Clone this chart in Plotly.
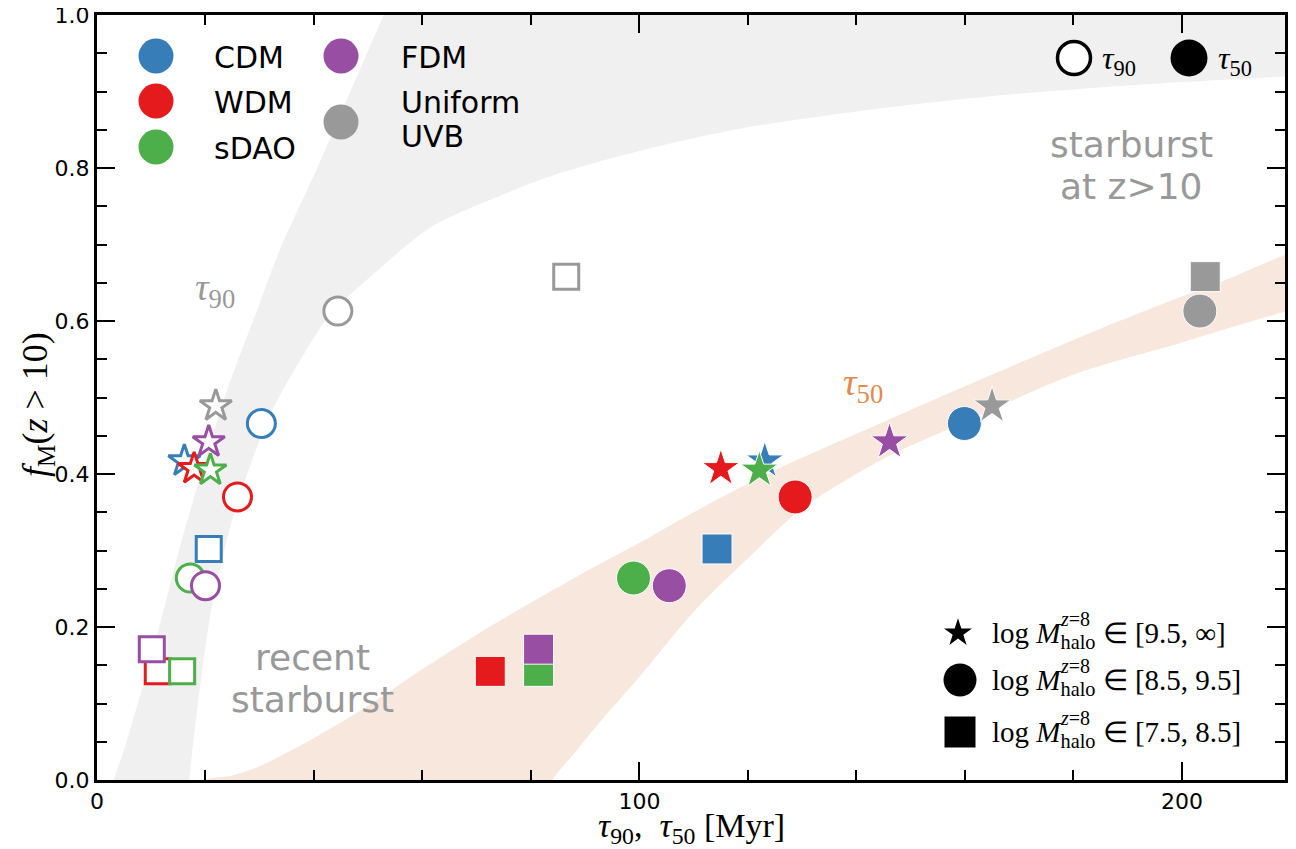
import plotly.graph_objects as go

# ---------------- data ----------------
MODELS = ["CDM", "WDM", "sDAO", "FDM", "Uniform UVB"]
MODEL_COLORS = ["#377eb8", "#e41a1c", "#4daf4a", "#984ea3", "#999999"]

# log M_halo(z=8) in [9.5, inf]  -> stars
FM_HIGH = [0.417, 0.407, 0.405, 0.442, 0.489]
TAU90_HIGH = [16.1, 17.9, 20.9, 20.6, 21.9]
TAU50_HIGH = [123.1, 115.0, 122.1, 146.1, 165.0]
# log M_halo(z=8) in [8.5, 9.5]  -> circles
FM_MID = [0.466, 0.370, 0.264, 0.254, 0.613]
TAU90_MID = [30.3, 25.9, 17.2, 20.0, 44.4]
TAU50_MID = [159.9, 128.7, 98.9, 105.5, 203.3]
# log M_halo(z=8) in [7.5, 8.5]  -> squares
FM_LOW = [0.302, 0.142, 0.142, 0.171, 0.658]
TAU90_LOW = [20.6, 11.2, 15.7, 10.1, 86.5]
TAU50_LOW = [114.3, 72.5, 81.4, 81.4, 204.3]

MASS_LABELS = ["[9.5, ∞]", "[8.5, 9.5]", "[7.5, 8.5]"]

# tau90 guide band (grey): left edge, right edge
T90_LEFT_X = [2.6, 3.1, 5.0, 10.5, 15.3, 20.0, 24.0, 29.5, 33.7, 40.6, 45.5, 52.9, 55.0]
T90_LEFT_Y = [-0.02, 0.0, 0.04, 0.174, 0.305, 0.42, 0.51, 0.614, 0.693, 0.80, 0.88, 1.0, 1.03]
T90_RIGHT_X = [230, 219, 190, 166.5, 140, 119, 103.2, 84.8, 73.7, 61.4, 52.2, 42.9, 36.9, 31.9, 25.3, 21.0, 18.4, 17.0, 16.8]
T90_RIGHT_Y = [0.925, 0.92, 0.908, 0.895, 0.874, 0.852, 0.828, 0.792, 0.762, 0.722, 0.669, 0.608, 0.542, 0.477, 0.349, 0.22, 0.088, 0.0, -0.02]

# tau50 guide band (orange): upper edge, lower edge
T50_UP_X = [18, 20, 25, 30, 40, 50, 60, 70, 80, 90, 100, 110, 125, 145, 165, 185, 205, 230]
T50_UP_Y = [-0.02, 0.0, 0.006, 0.018, 0.055, 0.097, 0.145, 0.19, 0.232, 0.272, 0.31, 0.35, 0.405, 0.468, 0.53, 0.59, 0.645, 0.705]
T50_LO_X = [230, 219, 200, 180, 160, 145, 130, 120, 110, 100, 92, 88, 84, 83.5]
T50_LO_Y = [0.628, 0.612, 0.572, 0.53, 0.468, 0.42, 0.355, 0.29, 0.22, 0.135, 0.07, 0.035, 0.0, -0.02]

# ---------------- layout constants ----------------
OFF = 8                      # default page (body) margin of the html page
W, H = 1296 - OFF, 849 - OFF
PL, PR, PT, PB = 97, 1285, 15, 780   # plot area in page pixels


def u(px):
    return (px - PL) / (PR - PL)


def v(py):
    return (PB - py) / (PB - PT)


GREY_TXT = "#999999"
SANS = "DejaVu Sans"
SERIF = "Liberation Serif"

fig = go.Figure()

# grey tau90 band
fig.add_trace(go.Scatter(
    x=T90_LEFT_X + [230] + T90_RIGHT_X,
    y=T90_LEFT_Y + [1.03] + T90_RIGHT_Y,
    mode="lines", fill="toself", fillcolor="#f0f0f0",
    line=dict(width=0, color="#f0f0f0", shape="spline", smoothing=0.8),
    hoverinfo="skip", showlegend=False))

# orange tau50 band
fig.add_trace(go.Scatter(
    x=T50_UP_X + T50_LO_X,
    y=T50_UP_Y + T50_LO_Y,
    mode="lines", fill="toself", fillcolor="#f8e7dd",
    line=dict(width=0, color="#f8e7dd", shape="spline", smoothing=0.8),
    hoverinfo="skip", showlegend=False))

BINS = [
    ("square", FM_LOW, TAU90_LOW, TAU50_LOW, 25, 30),
    ("circle", FM_MID, TAU90_MID, TAU50_MID, 28, 34),
    ("star", FM_HIGH, TAU90_HIGH, TAU50_HIGH, 24, 28),
]

for i, name in enumerate(MODELS):
    col = MODEL_COLORS[i]
    for sym, fm, t90, t50, s_open, s_fill in BINS:
        fig.add_trace(go.Scatter(
            x=[t90[i]], y=[fm[i]], mode="markers", name=name,
            marker=dict(symbol=sym, size=s_open, color="white",
                        line=dict(color=col, width=3)),
            showlegend=False, cliponaxis=False))
        fig.add_trace(go.Scatter(
            x=[t50[i]], y=[fm[i]], mode="markers", name=name,
            marker=dict(symbol=sym, size=s_fill, color=col,
                        line=dict(color="white", width=1)),
            showlegend=False, cliponaxis=False))


# ---------------- legend glyphs on an overlay (0..1) axis ----------------
def glyph(px, py, sym, size, color, lcolor, lwidth):
    fig.add_trace(go.Scatter(
        x=[u(px)], y=[v(py)], xaxis="x2", yaxis="y2", mode="markers",
        marker=dict(symbol=sym, size=size, color=color,
                    line=dict(color=lcolor, width=lwidth)),
        hoverinfo="skip", showlegend=False, cliponaxis=False))


legend_pos = [(156, 56), (156, 101), (156, 147), (341, 56), (341, 122)]
for (px, py), col in zip(legend_pos, MODEL_COLORS):
    glyph(px, py, "circle", 35, col, col, 0)

glyph(1074, 58, "circle", 33, "white", "black", 3.5)
glyph(1189, 58, "circle", 37, "black", "black", 0)

glyph(958, 633, "star", 21, "black", "black", 0)
glyph(960, 680, "circle", 33, "black", "black", 0)
glyph(960, 732, "square", 31, "black", "black", 0)

ann = []


def text(px, py, s, size, color="black", family=SANS, xanchor="left", angle=0):
    ann.append(dict(x=u(px), y=v(py), xref="paper", yref="paper", text=s,
                    showarrow=False, xanchor=xanchor, yanchor="middle",
                    textangle=angle,
                    font=dict(size=size, color=color, family=family)))


# colour legend text
text(212, 57, "CDM", 30)
text(212, 102, "WDM", 30)
text(212, 148, "sDAO", 30)
text(399, 57, "FDM", 30)
text(399, 102, "Uniform", 30)
text(399, 136, "UVB", 30)

# tau legend text
text(1100, 60, "<i>τ</i><sub>90</sub>", 32, family=SERIF)
text(1216, 60, "<i>τ</i><sub>50</sub>", 32, family=SERIF)

# mass-bin legend text
for py, lab in zip([633, 680, 732], MASS_LABELS):
    text(990, py + 2, "log <i>M</i><sub>halo</sub> ∈ " + lab, 29, family=SERIF)
    text(1058, py - 14, "<i>z</i>=8", 20, family=SERIF)

# region labels
text(1131, 145, "starburst", 36, GREY_TXT, xanchor="center")
text(1131, 186, "at z>10", 36, GREY_TXT, xanchor="center")
text(312, 657, "recent", 36, GREY_TXT, xanchor="center")
text(312, 699, "starburst", 36, GREY_TXT, xanchor="center")

# band labels
text(215, 290, "<i>τ</i><sub>90</sub>", 38, GREY_TXT, family=SERIF, xanchor="center")
text(863, 385, "<i>τ</i><sub>50</sub>", 38, "#e08a4e", family=SERIF, xanchor="center")

# axis titles
text(691, 828, "<i>τ</i><sub>90</sub>,  <i>τ</i><sub>50</sub> [Myr]", 34, family=SERIF, xanchor="center")
text(37, 405, "<i>f</i><sub>M</sub>(<i>z</i> > 10)", 36, family=SERIF, xanchor="center", angle=-90)

axis_common = dict(
    showgrid=False, zeroline=False, showline=True, linewidth=3, linecolor="black",
    mirror="allticks", ticks="inside", ticklen=18, tickwidth=2, tickcolor="black",
    automargin=False, ticklabeloverflow="allow",
    tickfont=dict(family=SANS, size=22, color="black"),
)

fig.update_layout(
    width=W, height=H,
    margin=dict(l=PL - OFF, r=W - (PR - OFF), t=PT - OFF, b=H - (PB - OFF),
                pad=0, autoexpand=False),
    paper_bgcolor="white", plot_bgcolor="white",
    showlegend=False,
    xaxis=dict(range=[0, 219], tick0=0, dtick=100,
               minor=dict(ticks="inside", ticklen=10, tickwidth=2, dtick=20, tick0=0, tickcolor="black"),
               **axis_common),
    yaxis=dict(range=[0, 1], tick0=0, dtick=0.2, tickformat=".1f",
               minor=dict(ticks="inside", ticklen=10, tickwidth=2, dtick=0.05, tick0=0, tickcolor="black"),
               **axis_common),
    xaxis2=dict(overlaying="x", range=[0, 1], visible=False, automargin=False),
    yaxis2=dict(overlaying="y", range=[0, 1], visible=False, automargin=False),
    annotations=ann,
)

fig.write_html("out.html")
